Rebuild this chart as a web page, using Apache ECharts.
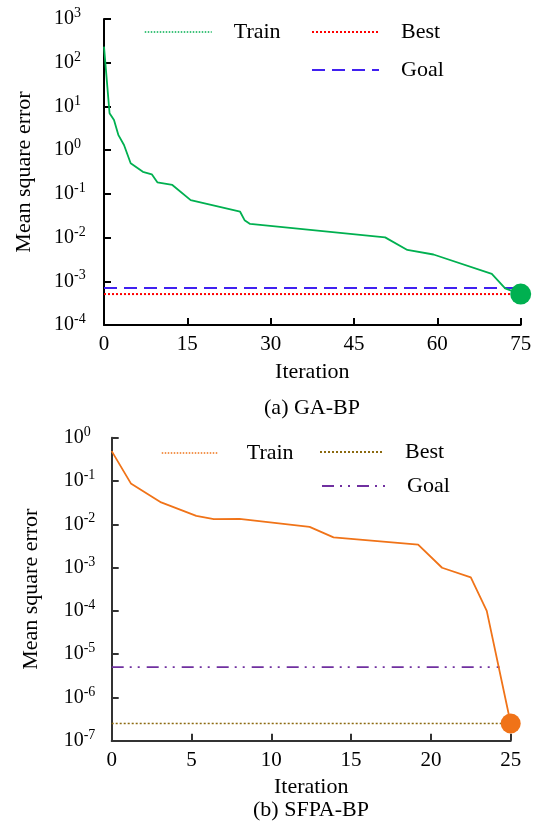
<!DOCTYPE html>
<html>
<head>
<meta charset="utf-8">
<script src="https://cdn.jsdelivr.net/npm/echarts@6/dist/echarts.min.js"></script>
<style>html,body{margin:0;padding:0;background:#fff;}#c{width:537px;height:828px;}</style>
</head>
<body>
<div id="c"></div>
<script>
// ---- (a) GA-BP ----
const gaIter = [0, 1, 1.8, 2.6, 3.6, 4.8, 7, 8.6, 9.6, 12.3, 15.6, 24.5, 25.3, 26.3, 50.6, 54.6, 59.3, 69.8, 72.2, 75];
const gaMse  = [233, 7.0, 4.9, 2.2, 1.31, 0.5, 0.32, 0.28, 0.184, 0.16, 0.072, 0.039, 0.025, 0.0205, 0.0101, 0.0052, 0.0041, 0.00147, 0.00069, 0.00051];
const gaBest = 0.00051;
const gaGoal = 0.0007;
const gaRange = [0, 75];

// ---- (b) SFPA-BP ----
const sfIter = [0, 1.2, 3.1, 5.3, 6.4, 8.0, 12.4, 13.9, 19.2, 20.7, 22.5, 23.5, 25];
const sfMse  = [0.49, 0.088, 0.032, 0.0157, 0.0132, 0.0133, 0.0087, 0.005, 0.0034, 0.00099, 0.00059, 0.0001, 2.5e-7];
const sfBest = 2.5e-7;
const sfGoal = 5e-6;
const sfRange = [0, 25];
const sfGoalEnd = 24.3;

const legendNames = ['Train', 'Best', 'Goal'];
const titles = ['(a) GA-BP', '(b) SFPA-BP'];
const yName = 'Mean square error';
const xName = 'Iteration';

const FF = '"Liberation Serif", "Times New Roman", serif';

const pairs = (xs, ys) => xs.map((x, i) => [x, ys[i]]);

function yLabel(v) {
  const e = Math.round(Math.log10(v));
  return '{b|10}{s|' + (e < 0 ? '-' + (-e) : e) + '}';
}

function yAxis(gi, min, max, color) {
  return {
    type: 'log', logBase: 10, gridIndex: gi, min: min, max: max, splitNumber: 7,
    name: yName, nameLocation: 'middle', nameGap: 69,
    nameTextStyle: { fontFamily: FF, fontSize: 22, color: '#000' },
    axisLine: { show: true, lineStyle: { color: color, width: 2 } },
    axisTick: { show: true, inside: true, length: 7, lineStyle: { color: color, width: 2 } },
    splitLine: { show: false },
    minorTick: { show: false },
    axisLabel: {
      align: 'left', margin: gi === 0 ? 50 : 48,
      formatter: yLabel,
      rich: {
        b: { fontFamily: FF, fontSize: 20, color: '#000' },
        s: { fontFamily: FF, fontSize: 14, color: '#000', padding: [0, 0, 11, 0] }
      }
    }
  };
}

function xAxis(gi, range, interval, color) {
  return {
    type: 'value', gridIndex: gi, min: range[0], max: range[1], interval: interval,
    name: xName, nameLocation: 'middle', nameGap: 36,
    nameTextStyle: { fontFamily: FF, fontSize: 22, color: '#000' },
    axisLine: { show: true, onZero: false, lineStyle: { color: color, width: 2 } },
    axisTick: { show: true, inside: true, length: 7, lineStyle: { color: color, width: 2 } },
    splitLine: { show: false },
    axisLabel: { fontFamily: FF, fontSize: 21, color: '#000', margin: 9, showMaxLabel: true, showMinLabel: true }
  };
}

function legend(name, left, top, width, gap, lineColor, extraLine) {
  const item = { name: name, lineStyle: Object.assign({ color: lineColor }, extraLine || {}) };
  return {
    left: left, top: top, orient: 'horizontal', selectedMode: false,
    itemWidth: width, itemHeight: 10, padding: 0,
    data: [item],
    itemStyle: { color: 'rgba(0,0,0,0)', borderWidth: 0, borderColor: 'rgba(0,0,0,0)' },
    formatter: n => '{g|\u00a0}' + n,
    textStyle: { fontFamily: FF, fontSize: 22, color: '#000', lineHeight: 24,
      rich: { g: { width: gap, fontSize: 22, fontFamily: FF } } }
  };
}

const cGreen = '#00b050', cRed = '#ff0000', cBlue = '#4020f0';
const cOrange = '#f07318', cOlive = '#8c6a10', cPurple = '#7030a0';

const option = {
  animation: false,
  backgroundColor: '#fff',
  grid: [
    { left: 104, top: 19, width: 416.7, height: 306 },
    { left: 111.7, top: 437.7, width: 399, height: 303 }
  ],
  xAxis: [xAxis(0, gaRange, 15, '#000'), xAxis(1, sfRange, 5, '#333')],
  yAxis: [yAxis(0, 1e-4, 1e3, '#000'), yAxis(1, 1e-7, 1, '#333')],
  legend: [
    legend(legendNames[0], 144, 20, 67, 17, cGreen, { type: 'dotted', width: 1.5 }),
    legend(legendNames[1], 311, 20, 67, 17, cRed),
    legend(legendNames[2], 311, 58, 67, 17, cBlue),
    legend(legendNames[0] + ' ', 161, 441, 56, 24, cOrange, { type: 'dotted', width: 1.5 }),
    legend(legendNames[1] + ' ', 319, 440, 64, 16, cOlive),
    legend(legendNames[2] + ' ', 321, 474, 64, 16, cPurple)
  ],
  graphic: [
    { type: 'text', x: 312, y: 408, style: { text: titles[0], align: 'center', verticalAlign: 'middle', fontFamily: FF, fontSize: 22, fill: '#000' } },
    { type: 'text', x: 311, y: 810, style: { text: titles[1], align: 'center', verticalAlign: 'middle', fontFamily: FF, fontSize: 22, fill: '#000' } }
  ],
  series: [
    { name: 'Goal', type: 'line', xAxisIndex: 0, yAxisIndex: 0, symbol: 'none', z: 3,
      data: [[gaRange[0], gaGoal], [gaRange[1], gaGoal]],
      lineStyle: { color: cBlue, width: 2, type: [13, 7] }, itemStyle: { color: cBlue } },
    { name: 'Best', type: 'line', xAxisIndex: 0, yAxisIndex: 0, symbol: 'none', z: 3,
      data: [[gaRange[0], gaBest], [gaRange[1], gaBest]],
      lineStyle: { color: cRed, width: 2, type: [2, 2] }, itemStyle: { color: cRed } },
    { name: 'Train', type: 'line', xAxisIndex: 0, yAxisIndex: 0, symbol: 'none', z: 4,
      data: pairs(gaIter, gaMse),
      lineStyle: { color: cGreen, width: 1.8 }, itemStyle: { color: cGreen } },
    { name: 'gaEnd', type: 'scatter', xAxisIndex: 0, yAxisIndex: 0, clip: false, z: 5,
      symbolSize: 21, data: [[gaIter[gaIter.length - 1], gaBest]], itemStyle: { color: cGreen, opacity: 1 } },

    { name: 'Goal ', type: 'line', xAxisIndex: 1, yAxisIndex: 1, symbol: 'none', z: 3,
      data: [[sfRange[0], sfGoal], [sfGoalEnd, sfGoal]],
      lineStyle: { color: cPurple, width: 1.8, type: [12, 6, 2, 6, 2, 7] }, itemStyle: { color: cPurple } },
    { name: 'Best ', type: 'line', xAxisIndex: 1, yAxisIndex: 1, symbol: 'none', z: 3,
      data: [[sfRange[0], sfBest], [sfRange[1], sfBest]],
      lineStyle: { color: cOlive, width: 1.5, type: [2, 2] }, itemStyle: { color: cOlive } },
    { name: 'Train ', type: 'line', xAxisIndex: 1, yAxisIndex: 1, symbol: 'none', z: 4,
      data: pairs(sfIter, sfMse),
      lineStyle: { color: cOrange, width: 1.8 }, itemStyle: { color: cOrange } },
    { name: 'sfEnd', type: 'scatter', xAxisIndex: 1, yAxisIndex: 1, clip: false, z: 5,
      symbolSize: 20, data: [[sfIter[sfIter.length - 1], sfBest]], itemStyle: { color: cOrange, opacity: 1 } }
  ]
};

const chart = echarts.init(document.getElementById('c'), null, { renderer: 'canvas' });
chart.setOption(option);
</script>
</body>
</html>
